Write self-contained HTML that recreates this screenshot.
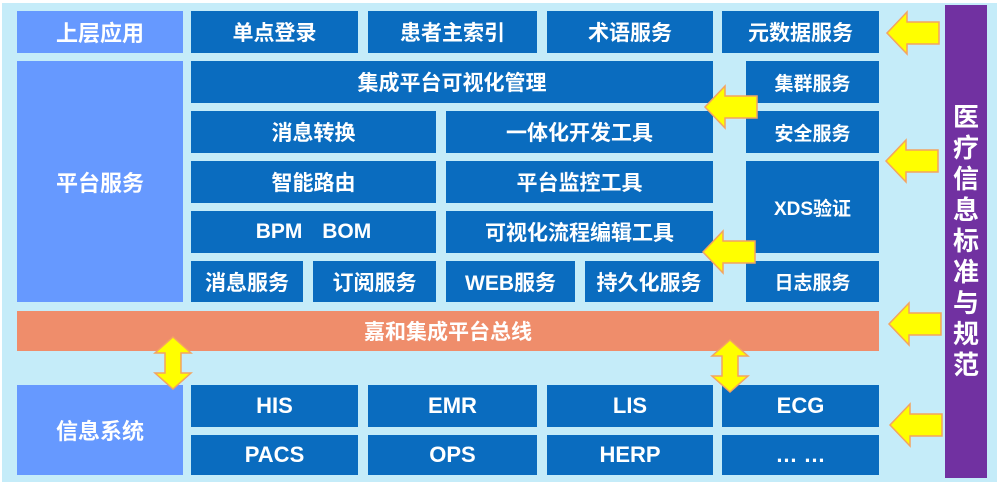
<!DOCTYPE html>
<html><head><meta charset="utf-8"><style>
body{margin:0;width:1004px;height:486px;background:#fff;position:relative;overflow:hidden;font-family:"Liberation Sans","Noto Sans CJK SC",sans-serif;}
.bg{position:absolute;left:2px;top:3px;width:995px;height:479px;background:#c5ecf9;}
.b{position:absolute;background:#0a6cbf;color:#fff;font-weight:bold;font-size:21px;display:flex;align-items:center;justify-content:center;}
.l{background:#6699ff;font-size:22px;}
.v{position:absolute;left:945px;top:5px;width:42px;height:473px;background:#7131a1;color:#fff;font-weight:bold;font-size:26px;display:flex;flex-direction:column;align-items:center;justify-content:center;line-height:31px;}
svg{position:absolute;left:0;top:0;}
</style></head><body>
<div class="bg"></div>
<div class="b l" style="left:17px;top:11px;width:166px;height:42px">上层应用</div>
<div class="b" style="left:191px;top:11px;width:167px;height:42px">单点登录</div>
<div class="b" style="left:368px;top:11px;width:169px;height:42px">患者主索引</div>
<div class="b" style="left:547px;top:11px;width:166px;height:42px">术语服务</div>
<div class="b" style="left:722px;top:11px;width:157px;height:42px">元数据服务</div>
<div class="b l" style="left:17px;top:61px;width:166px;height:241px">平台服务</div>
<div class="b" style="left:191px;top:61px;width:522px;height:42px">集成平台可视化管理</div>
<div class="b" style="left:746px;top:61px;width:133px;height:42px;font-size:19px">集群服务</div>
<div class="b" style="left:746px;top:111px;width:133px;height:42px;font-size:19px">安全服务</div>
<div class="b" style="left:746px;top:161px;width:133px;height:92px;font-size:19px">XDS验证</div>
<div class="b" style="left:746px;top:261px;width:133px;height:41px;font-size:19px">日志服务</div>
<div class="b" style="left:191px;top:111px;width:245px;height:42px">消息转换</div>
<div class="b" style="left:446px;top:111px;width:267px;height:42px">一体化开发工具</div>
<div class="b" style="left:191px;top:161px;width:245px;height:42px">智能路由</div>
<div class="b" style="left:446px;top:161px;width:267px;height:42px">平台监控工具</div>
<div class="b" style="left:191px;top:211px;width:245px;height:42px;word-spacing:14px">BPM BOM</div>
<div class="b" style="left:446px;top:211px;width:267px;height:42px">可视化流程编辑工具</div>
<div class="b" style="left:191px;top:261px;width:112px;height:41px">消息服务</div>
<div class="b" style="left:313px;top:261px;width:123px;height:41px">订阅服务</div>
<div class="b" style="left:446px;top:261px;width:129px;height:41px">WEB服务</div>
<div class="b" style="left:585px;top:261px;width:128px;height:41px">持久化服务</div>
<div class="b" style="left:17px;top:311px;width:862px;height:40px;background:#ef8d6b">嘉和集成平台总线</div>
<div class="b l" style="left:17px;top:385px;width:166px;height:90px">信息系统</div>
<div class="b" style="left:191px;top:385px;width:167px;height:42px;font-size:22px">HIS</div>
<div class="b" style="left:368px;top:385px;width:169px;height:42px;font-size:22px">EMR</div>
<div class="b" style="left:547px;top:385px;width:166px;height:42px;font-size:22px">LIS</div>
<div class="b" style="left:722px;top:385px;width:157px;height:42px;font-size:22px">ECG</div>
<div class="b" style="left:191px;top:435px;width:167px;height:40px;font-size:22px">PACS</div>
<div class="b" style="left:368px;top:435px;width:169px;height:40px;font-size:22px">OPS</div>
<div class="b" style="left:547px;top:435px;width:166px;height:40px;font-size:22px">HERP</div>
<div class="b" style="left:722px;top:435px;width:157px;height:40px;font-size:22px">… …</div>
<div class="v"><span>医</span><span>疗</span><span>信</span><span>息</span><span>标</span><span>准</span><span>与</span><span>规</span><span>范</span></div>
<svg width="1004" height="486">
<defs><g id="la"><polygon points="0,0 20,-21 20,-11 52,-11 52,11 20,11 20,21" fill="#ffff00" stroke="#f4a460" stroke-width="1.5"/></g>
<g id="da"><polygon points="0,-26 18,-10 8,-10 8,10 18,10 0,26 -18,10 -8,10 -8,-10 -18,-10" fill="#ffff00" stroke="#f4a460" stroke-width="1.5"/></g></defs>
<use href="#la" x="887" y="33"/>
<use href="#la" x="886" y="161"/>
<use href="#la" x="889" y="324"/>
<use href="#la" x="890" y="425"/>
<use href="#la" x="705" y="107"/>
<use href="#la" x="703" y="252"/>
<use href="#da" x="173" y="363"/>
<use href="#da" x="730" y="366"/>
</svg>
</body></html>
